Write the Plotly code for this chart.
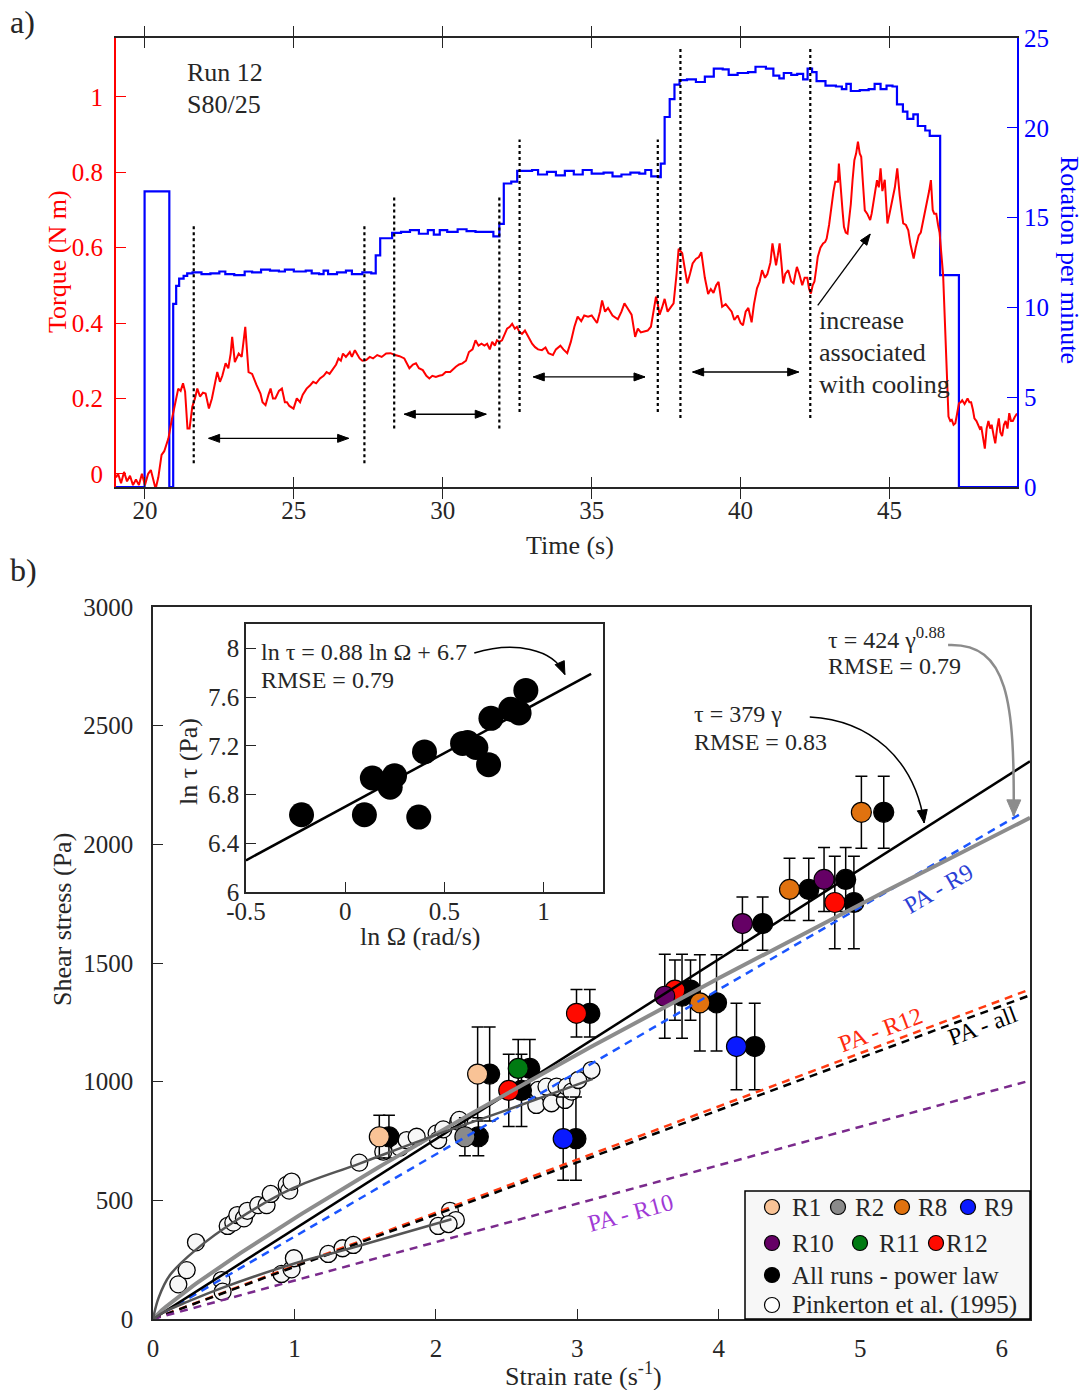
import plotly.graph_objects as go
import numpy as np

W, H = 1085, 1390
FONT = "Liberation Serif, Times New Roman, serif"
TXT = "#262626"

def fx(p):
    return p / W

def fy(p):
    return 1 - p / H

# ---------------- Panel a) data ----------------
rpm_t = [19.03, 19.99, 20.82, 20.95, 21.05, 21.15, 21.3, 21.42, 21.6, 21.9, 22.2, 22.5, 22.7, 23.0, 23.35,
         23.6, 23.9, 24.2, 24.5, 24.7, 25.0, 25.4, 25.6, 25.85, 26.0, 26.15, 26.45, 26.75, 26.95, 27.3,
         27.6, 27.75, 27.9, 28.3, 28.6, 28.9, 29.2, 29.5, 29.7, 29.9, 30.15, 30.5, 30.8, 31.1, 31.5,
         31.7, 31.9, 32.05, 32.3, 32.5, 33.0, 33.2, 33.5, 33.8, 34.1, 34.4, 34.7, 35.0, 35.4, 35.7,
         36.0, 36.3, 36.6, 36.8, 37.0, 37.25, 37.32, 37.45, 37.62, 37.78, 37.95, 38.2, 38.5, 38.8, 39.1,
         39.4, 39.6, 39.9, 40.25, 40.5, 40.85, 41.1, 41.3, 41.45, 41.7, 41.9, 42.1, 42.25, 42.4, 42.55,
         42.85, 43.2, 43.4, 43.55, 43.7, 44.0, 44.3, 44.5, 44.7, 44.9, 45.1, 45.25, 45.45, 45.6, 45.8,
         45.95, 46.2, 46.35, 46.7, 47.33, 49.28]
rpm_v = [0, 16.46, 0, 10.2, 11.2, 11.6, 11.75, 11.9, 11.95, 11.85, 11.9, 12.0, 11.85, 11.8, 12.0,
         11.95, 12.1, 12.05, 12.0, 12.1, 12.0, 12.05, 11.9, 11.85, 12.05, 11.85, 11.95, 12.05, 11.85, 11.95,
         11.9, 12.9, 13.85, 14.15, 14.2, 14.3, 14.1, 14.3, 14.05, 14.3, 14.2, 14.35, 14.25, 14.2, 14.2,
         13.95, 14.65, 16.9, 17.0, 17.6, 17.65, 17.4, 17.55, 17.35, 17.6, 17.4, 17.65, 17.45, 17.5, 17.3,
         17.4, 17.5, 17.45, 17.65, 17.3, 17.25, 18.0, 20.6, 21.6, 22.4, 22.65, 22.7, 22.55, 22.85, 23.3,
         23.25, 22.95, 23.05, 23.1, 23.4, 23.3, 22.9, 22.75, 23.05, 22.95, 23.0, 22.7, 23.3, 23.1, 22.6,
         22.35, 22.3, 22.15, 22.45, 22.05, 22.1, 22.15, 22.45, 22.15, 22.35, 22.3, 21.3, 20.9, 20.5, 20.75,
         20.1, 19.85, 19.55, 11.8, 0, 0]

tq_t = [19.03, 19.1, 19.2, 19.3, 19.4, 19.5, 19.6, 19.7, 19.8, 19.9, 20.0, 20.11, 20.2, 20.3, 20.36,
        20.45, 20.56, 20.65, 20.79, 20.9, 21.0, 21.12, 21.2, 21.28, 21.35, 21.43, 21.5, 21.59, 21.68, 21.76,
        21.85, 21.95, 22.04, 22.15, 22.25, 22.32, 22.43, 22.52, 22.6, 22.71, 22.8, 22.88, 22.93, 23.02, 23.15,
        23.25, 23.37, 23.48, 23.6, 23.75, 23.88, 23.95, 24.05, 24.15, 24.22, 24.3, 24.38, 24.5, 24.6, 24.7,
        24.77, 24.85, 24.99, 25.1, 25.21, 25.3, 25.43, 25.55, 25.65, 25.75, 25.88, 26.0, 26.1, 26.2, 26.33,
        26.42, 26.5, 26.58, 26.65, 26.75, 26.88, 26.95, 27.05, 27.21, 27.3, 27.43, 27.55, 27.66, 27.8, 27.95,
        28.1, 28.25, 28.4, 28.55, 28.71, 28.8, 28.88, 29.0, 29.1, 29.2, 29.33, 29.45, 29.55, 29.65, 29.77,
        29.88, 29.99, 30.1, 30.25, 30.44, 30.55, 30.66, 30.78, 30.88, 31.0, 31.1, 31.2, 31.3, 31.4, 31.49,
        31.58, 31.66, 31.75, 31.82, 31.9, 31.99, 32.08, 32.16, 32.25, 32.33, 32.42, 32.49, 32.58, 32.66, 32.76,
        32.88, 33.0, 33.1, 33.2, 33.33, 33.45, 33.55, 33.7, 33.8, 33.95, 34.05, 34.18, 34.3, 34.42, 34.53,
        34.65, 34.75, 34.88, 35.0, 35.1, 35.18, 35.28, 35.35, 35.45, 35.55, 35.7, 35.88, 36.0, 36.1, 36.2,
        36.34, 36.46, 36.55, 36.65, 36.75, 36.88, 36.99, 37.08, 37.16, 37.22, 37.28, 37.36, 37.45, 37.55, 37.65,
        37.75, 37.85, 37.92, 38.04, 38.12, 38.21, 38.3, 38.39, 38.5, 38.6, 38.68, 38.75, 38.8, 38.91, 39.0,
        39.09, 39.18, 39.26, 39.32, 39.38, 39.5, 39.61, 39.7, 39.79, 39.9, 40.0, 40.08, 40.17, 40.26, 40.37,
        40.45, 40.55, 40.64, 40.72, 40.82, 40.9, 41.0, 41.07, 41.13, 41.19, 41.25, 41.31, 41.37, 41.43, 41.5,
        41.6, 41.7, 41.78, 41.84, 41.89, 41.97, 42.07, 42.15, 42.24, 42.3, 42.36, 42.42, 42.48, 42.55, 42.59,
        42.68, 42.77, 42.84, 42.89, 42.97, 43.06, 43.12, 43.18, 43.27, 43.3, 43.35, 43.42, 43.47, 43.53, 43.59,
        43.65, 43.7, 43.76, 43.82, 43.88, 43.94, 44.0, 44.05, 44.1, 44.17, 44.25, 44.35, 44.4, 44.46, 44.52,
        44.58, 44.64, 44.7, 44.76, 44.84, 44.9, 44.93, 45.0, 45.1, 45.18, 45.26, 45.3, 45.34, 45.4, 45.46,
        45.55, 45.63, 45.7, 45.76, 45.81, 45.88, 45.98, 46.05, 46.16, 46.22, 46.27, 46.33, 46.39, 46.45, 46.5,
        46.57, 46.63, 46.68, 46.8, 46.92, 46.98, 47.04, 47.09, 47.15, 47.21, 47.27, 47.33, 47.39, 47.44, 47.52,
        47.62, 47.68, 47.74, 47.8, 47.85, 47.92, 47.97, 48.03, 48.08, 48.14, 48.2, 48.26, 48.32, 48.38, 48.43,
        48.5, 48.55, 48.61, 48.67, 48.72, 48.78, 48.84, 48.9, 48.96, 49.02, 49.08, 49.14, 49.2, 49.28]
tq_v = [-0.01, 0.0, -0.025, 0.005, -0.02, -0.005, -0.03, -0.015, -0.03, 0.0, -0.03, 0.0, 0.01, -0.02, -0.04,
        -0.01, 0.05, 0.06, 0.094, 0.142, 0.177, 0.226, 0.22, 0.24, 0.218, 0.12, 0.12, 0.177, 0.2, 0.226,
        0.205, 0.215, 0.213, 0.173, 0.2, 0.226, 0.27, 0.244, 0.26, 0.293, 0.28, 0.319, 0.363, 0.296, 0.319,
        0.31, 0.39, 0.27, 0.265, 0.235, 0.213, 0.19, 0.182, 0.21, 0.226, 0.2, 0.2, 0.22, 0.226, 0.19,
        0.19, 0.18, 0.173, 0.2, 0.19, 0.21, 0.226, 0.235, 0.244, 0.24, 0.253, 0.26, 0.27, 0.265, 0.28,
        0.29, 0.306, 0.3, 0.319, 0.31, 0.323, 0.31, 0.328, 0.306, 0.3, 0.302, 0.31, 0.306, 0.315, 0.31,
        0.319, 0.32, 0.315, 0.312, 0.306, 0.29, 0.28, 0.29, 0.293, 0.28, 0.275, 0.26, 0.253, 0.26, 0.257,
        0.26, 0.262, 0.27, 0.27, 0.284, 0.29, 0.293, 0.3, 0.323, 0.33, 0.354, 0.34, 0.345, 0.34, 0.345,
        0.33, 0.35, 0.34, 0.354, 0.35, 0.354, 0.37, 0.385, 0.39, 0.398, 0.385, 0.39, 0.375, 0.371, 0.38,
        0.363, 0.345, 0.336, 0.33, 0.328, 0.335, 0.32, 0.315, 0.33, 0.34, 0.33, 0.32, 0.35, 0.39, 0.417,
        0.405, 0.42, 0.417, 0.42, 0.41, 0.4, 0.43, 0.46, 0.43, 0.44, 0.42, 0.41, 0.43, 0.452, 0.44,
        0.422, 0.363, 0.385, 0.375, 0.377, 0.38, 0.39, 0.43, 0.47, 0.45, 0.422, 0.44, 0.464, 0.43, 0.44,
        0.452, 0.53, 0.597, 0.585, 0.55, 0.505, 0.53, 0.558, 0.57, 0.575, 0.588, 0.55, 0.52, 0.477, 0.49,
        0.48, 0.5, 0.509, 0.47, 0.443, 0.45, 0.44, 0.43, 0.408, 0.42, 0.4, 0.394, 0.43, 0.44, 0.402,
        0.45, 0.492, 0.51, 0.54, 0.52, 0.53, 0.56, 0.611, 0.58, 0.553, 0.58, 0.611, 0.56, 0.505, 0.53,
        0.54, 0.51, 0.505, 0.53, 0.549, 0.53, 0.5, 0.52, 0.52, 0.49, 0.478, 0.5, 0.51, 0.55, 0.575,
        0.6, 0.611, 0.615, 0.624, 0.66, 0.722, 0.75, 0.775, 0.775, 0.823, 0.761, 0.7, 0.655, 0.64, 0.637,
        0.68, 0.715, 0.78, 0.832, 0.85, 0.881, 0.85, 0.841, 0.78, 0.699, 0.69, 0.673, 0.69, 0.715, 0.75,
        0.779, 0.76, 0.81, 0.75, 0.78, 0.7, 0.664, 0.69, 0.73, 0.76, 0.81, 0.77, 0.74, 0.7, 0.664,
        0.66, 0.646, 0.61, 0.59, 0.571, 0.6, 0.632, 0.64, 0.681, 0.7, 0.725, 0.75, 0.779, 0.7, 0.69,
        0.69, 0.66, 0.64, 0.527, 0.249, 0.152, 0.14, 0.143, 0.13, 0.134, 0.16, 0.187, 0.19, 0.195, 0.185,
        0.2, 0.19, 0.19, 0.17, 0.147, 0.14, 0.129, 0.12, 0.125, 0.1, 0.067, 0.12, 0.14, 0.12, 0.13,
        0.1, 0.081, 0.12, 0.147, 0.11, 0.1, 0.13, 0.14, 0.12, 0.161, 0.14, 0.14, 0.15, 0.16]

vline_t = [21.64, 27.37, 28.37, 31.9, 32.58, 37.22, 37.98, 42.34]
vline_lo = [0.028, 0.028, 0.12, 0.12, 0.164, 0.164, 0.148, 0.148]
vline_hi = [0.66, 0.66, 0.735, 0.735, 0.887, 0.887, 1.129, 1.129]

span_t0 = [22.14, 28.71, 33.04, 38.39]
span_t1 = [26.84, 31.46, 36.79, 41.95]
span_T = [0.094, 0.158, 0.257, 0.27]

time_ticks = [20, 25, 30, 35, 40, 45]
torque_ticks = [0, 0.2, 0.4, 0.6, 0.8, 1]
torque_labels = ["0", "0.2", "0.4", "0.6", "0.8", "1"]
rpm_ticks = [0, 5, 10, 15, 20, 25]

# ---------------- Panel b) data ----------------
run_names = ["R1", "R1", "R2", "R11", "R12", "R12", "R12", "R12", "R9", "R9", "R10", "R10", "R10", "R8", "R8", "R8"]
strain_run = [1.60, 2.295, 2.205, 2.582, 2.515, 2.994, 3.69, 4.82, 2.90, 4.125, 3.618, 4.167, 4.744, 3.866, 4.50, 5.008]
strain_pl = [1.668, 2.38, 2.30, 2.664, 2.605, 3.088, 3.80, 4.955, 2.99, 4.254, 3.74, 4.31, 4.897, 3.984, 4.636, 5.166]
stress = [768, 1032, 768, 1056, 963, 1288, 1386, 1755, 760, 1148, 1360, 1666, 1852, 1332, 1810, 2135]
stress_err = [90, 198, 80, 122, 152, 100, 127, 195, 175, 182, 177, 112, 135, 203, 131, 152]
run_colors = {"R1": "#f9c396", "R2": "#8a8a8a", "R8": "#e0720f", "R9": "#0a1aff",
              "R10": "#650065", "R11": "#007a12", "R12": "#ff0a00"}

pink_x = [0.179, 0.238, 0.304, 0.528, 0.568, 0.596, 0.643, 0.667, 0.744, 0.803, 0.832, 0.945, 0.963, 0.980,
          1.458, 1.628, 1.746, 1.793, 1.864, 2.005, 2.016, 2.052, 2.158, 2.165,
          2.71, 2.723, 2.782, 2.817, 2.853, 2.912, 2.924, 2.959, 3.006, 3.10,
          0.485, 0.492, 0.909, 0.980, 0.996, 1.239, 1.34, 1.416, 2.016, 2.099, 2.141, 2.09]
pink_y = [146, 206, 323, 392, 406, 438, 424, 456, 480, 480, 527, 565, 541, 579,
          659, 705, 722, 754, 768, 782, 754, 799, 831, 839,
          902, 965, 979, 909, 979, 923, 979, 958, 1007, 1049,
          164, 115, 190, 209, 256, 274, 298, 312, 392, 456, 417, 400]
pk_up_x = [0, 0.04, 0.12, 0.3, 0.6, 0.99, 1.46, 2.0, 2.5, 3.11]
pk_up_y = [0, 90, 185, 290, 420, 551, 655, 776, 880, 1012]
pk_lo_x = [0, 0.1, 0.25, 0.48, 1.0, 1.39, 2.11]
pk_lo_y = [0, 36, 74, 129, 234, 297, 420]

lin_coef = 379          # tau = 379 gamma
pow_a, pow_n = 424, 0.88  # tau = 424 gamma^0.88
pa_names = ["PA - R9", "PA - R12", "PA - all", "PA - R10"]
pa_slope = [347, 224, 220, 162]
pa_end = [6.13, 6.2, 6.2, 6.2]
pa_colors = ["#1a55ff", "#ff3a10", "#000000", "#7a2a8c"]
pa_text_colors = ["#2a3fd6", "#ff2a10", "#000000", "#a03ad6"]

strain_ticks = [0, 1, 2, 3, 4, 5, 6]
stress_ticks = [0, 500, 1000, 1500, 2000, 2500, 3000]

inset_lnO = [-0.22, 0.097, 0.371, 0.137, 0.249, 0.227, 0.40, 0.592, 0.617, 0.659, 0.723, 0.735, 0.835, 0.877, 0.911]
inset_lnT = [6.634, 6.634, 6.615, 6.936, 6.955, 6.86, 7.15, 7.22, 7.227, 7.186, 7.045, 7.426, 7.50, 7.47, 7.655]
inset_fit_slope, inset_fit_icpt = 0.88, 6.7
inset_fit_x = [-0.5, 1.24]
inset_xticks = [-0.5, 0, 0.5, 1]
inset_yticks = [6, 6.4, 6.8, 7.2, 7.6, 8]

# axis geometry (pixels) and ranges
TOP_X = (116, 1017, 19.03, 49.28)
TOP_TQ = (487, 38, -0.035, 1.156)
MAIN_X = (153, 1030, 0, 6.2)
MAIN_Y = (1319, 607, 0, 3000)
INS_X = (246, 603, -0.5, 1.3)
INS_Y = (892, 624, 6, 8.2)

def to_px(v, ax):
    p0, p1, v0, v1 = ax
    return p0 + (v - v0) / (v1 - v0) * (p1 - p0)

fig = go.Figure()

# ---- top panel traces ----
fig.add_trace(go.Scatter(x=rpm_t, y=rpm_v, mode="lines", line=dict(color="#0000ff", width=2.2, shape="hv"),
                         xaxis="x", yaxis="y", showlegend=False, hoverinfo="skip"))
fig.add_trace(go.Scatter(x=tq_t, y=tq_v, mode="lines", line=dict(color="#ff0000", width=2.0),
                         xaxis="x", yaxis="y2", showlegend=False, hoverinfo="skip"))

# ---- bottom panel traces ----
fig.add_trace(go.Scatter(x=pink_x, y=pink_y, mode="markers", xaxis="x3", yaxis="y3",
                         marker=dict(size=17, color="#f7f7f7", line=dict(color="black", width=1.3)),
                         showlegend=False, hoverinfo="skip"))
fig.add_trace(go.Scatter(x=strain_pl, y=stress, mode="markers", xaxis="x3", yaxis="y3",
                         error_y=dict(type="data", array=stress_err, color="black", thickness=1.5, width=6),
                         marker=dict(size=20, color="black", line=dict(color="black", width=1.2)),
                         showlegend=False, hoverinfo="skip"))
fig.add_trace(go.Scatter(x=strain_run, y=stress, mode="markers", xaxis="x3", yaxis="y3",
                         error_y=dict(type="data", array=stress_err, color="black", thickness=1.5, width=6),
                         marker=dict(size=20, color=[run_colors[r] for r in run_names],
                                     line=dict(color="black", width=1.2)),
                         showlegend=False, hoverinfo="skip"))

for s, e, c in zip(pa_slope, pa_end, pa_colors):
    fig.add_trace(go.Scatter(x=[0, e], y=[0, s * e], mode="lines", xaxis="x3", yaxis="y3",
                             line=dict(color=c, width=2.5, dash="8px,6px"), showlegend=False, hoverinfo="skip"))

g = np.linspace(0, 6.2, 200)
fig.add_trace(go.Scatter(x=[0, 6.2], y=[0, lin_coef * 6.2], mode="lines", xaxis="x3", yaxis="y3",
                         line=dict(color="black", width=2.5), showlegend=False, hoverinfo="skip"))
fig.add_trace(go.Scatter(x=g, y=pow_a * g ** pow_n, mode="lines", xaxis="x3", yaxis="y3",
                         line=dict(color="#8c8c8c", width=4), showlegend=False, hoverinfo="skip"))
fig.add_trace(go.Scatter(x=pk_up_x, y=pk_up_y, mode="lines", xaxis="x3", yaxis="y3",
                         line=dict(color="#555555", width=2.5, shape="spline"), showlegend=False, hoverinfo="skip"))
fig.add_trace(go.Scatter(x=pk_lo_x, y=pk_lo_y, mode="lines", xaxis="x3", yaxis="y3",
                         line=dict(color="#555555", width=2.5, shape="spline"), showlegend=False, hoverinfo="skip"))

# ---- inset ----
fig.add_trace(go.Scatter(x=inset_fit_x, y=[inset_fit_slope * v + inset_fit_icpt for v in inset_fit_x],
                         mode="lines", xaxis="x4", yaxis="y4", line=dict(color="black", width=2.5),
                         showlegend=False, hoverinfo="skip"))
fig.add_trace(go.Scatter(x=inset_lnO, y=inset_lnT, mode="markers", xaxis="x4", yaxis="y4",
                         marker=dict(size=25, color="black"), showlegend=False, hoverinfo="skip"))

tickfont = dict(family=FONT, size=25, color=TXT)
axcommon = dict(showgrid=False, zeroline=False, ticks="inside", ticklen=10, tickwidth=1.3, automargin=False)

shapes = []
annotations = []

def P(x, y):
    return f"{x / W:.5f},{1 - y / H:.5f}"

def head(tx, ty, fx_, fy_, color, L=12, w=4.5):
    dx, dy = tx - fx_, ty - fy_
    n = (dx * dx + dy * dy) ** 0.5
    ux, uy = dx / n, dy / n
    bx, by = tx - L * ux, ty - L * uy
    c1 = (bx - w * uy, by + w * ux)
    c2 = (bx + w * uy, by - w * ux)
    shapes.append(dict(type="path", xref="paper", yref="paper",
                       path=f"M {P(tx, ty)} L {P(*c1)} L {P(*c2)} Z",
                       fillcolor=color, line=dict(color=color, width=1)))

def straight_arrow(x0, y0, x1, y1, color="black", width=1.3, both=False, L=12, w=4.5):
    shapes.append(dict(type="line", xref="paper", yref="paper", x0=x0 / W, y0=1 - y0 / H,
                       x1=x1 / W, y1=1 - y1 / H, line=dict(color=color, width=width)))
    head(x1, y1, x0, y0, color, L, w)
    if both:
        head(x0, y0, x1, y1, color, L, w)

def curved_arrow(pts, color="black", width=1.5, L=12, w=4.5):
    (x0, y0), (x1, y1), (x2, y2), (x3, y3) = pts
    shapes.append(dict(type="path", xref="paper", yref="paper",
                       path=f"M {P(x0, y0)} C {P(x1, y1)} {P(x2, y2)} {P(x3, y3)}",
                       line=dict(color=color, width=width)))
    head(x3, y3, x2, y2, color, L, w)

for t, lo, hi in zip(vline_t, vline_lo, vline_hi):
    shapes.append(dict(type="line", xref="x", yref="y2", x0=t, x1=t, y0=lo, y1=hi,
                       line=dict(color="black", width=2.2, dash="dot")))

for t0, t1, T in zip(span_t0, span_t1, span_T):
    yy = to_px(T, TOP_TQ)
    straight_arrow(to_px(t0, TOP_X), yy, to_px(t1, TOP_X), yy, both=True, L=11, w=4)

straight_arrow(to_px(42.59, TOP_X), to_px(0.447, TOP_TQ), to_px(44.35, TOP_X), to_px(0.636, TOP_TQ), L=11, w=4)

def mp(g_, t_):
    return (to_px(g_, MAIN_X), to_px(t_, MAIN_Y))

def ip(a_, b_):
    return (to_px(a_, INS_X), to_px(b_, INS_Y))

curved_arrow([mp(4.643, 2537), mp(5.067, 2524), mp(5.385, 2360), mp(5.452, 2090)], "black", 1.5, 13, 5)
curved_arrow([mp(5.621, 2840), mp(6.05, 2850), mp(6.09, 2600), mp(6.085, 2120)], "#8c8c8c", 2.5, 16, 7)
curved_arrow([ip(0.651, 7.962), ip(0.85, 8.06), ip(1.05, 8.0), ip(1.108, 7.785)], "black", 1.5, 13, 5)

def txt(x, y, s, size=26, color=TXT, xanchor="left", angle=0):
    annotations.append(dict(x=fx(x), y=fy(y), xref="paper", yref="paper", text=s, showarrow=False,
                            xanchor=xanchor, yanchor="middle", textangle=angle,
                            font=dict(family=FONT, size=size, color=color)))

txt(8, 22, "a)", size=32)
txt(8, 570, "b)", size=32)
txt(185, 73, "Run 12")
txt(185, 105, "S80/25")
txt(817, 320, "increase")
txt(817, 352, "associated")
txt(817, 384, "with cooling")
txt(570, 545, "Time (s)", xanchor="center")
txt(58, 262, "Torque (N m)", color="#ff0000", xanchor="center", angle=-90)
txt(1069, 260, "Rotation per minute", color="#0000ff", xanchor="center", angle=90)

txt(62, 920, "Shear stress (Pa)", xanchor="center", angle=-90)
txt(583, 1374, "Strain rate (s<sup>-1</sup>)", xanchor="center")
txt(189, 762, "ln τ (Pa)", xanchor="center", angle=-90)
txt(420, 936, "ln Ω (rad/s)", xanchor="center")
txt(259, 652, "ln τ = 0.88 ln Ω + 6.7", size=24)
txt(259, 680, "RMSE = 0.79", size=24)
txt(692, 714, "τ = 379 γ", size=24)
txt(692, 742, "RMSE = 0.83", size=24)
txt(826, 638, "τ = 424 γ<sup>0.88</sup>", size=24)
txt(826, 666, "RMSE = 0.79", size=24)

pa_label_pos = [(938, 889), (880, 1030), (982, 1026), (630, 1213)]
pa_label_ang = [-30, -20.6, -20.6, -15.2]
for name, (lx, ly), ang, col in zip(pa_names, pa_label_pos, pa_label_ang, pa_text_colors):
    txt(lx, ly, name, size=24, color=col, xanchor="center", angle=ang)

# legend (manual)
shapes.append(dict(type="rect", xref="paper", yref="paper", x0=fx(745), x1=fx(1030), y0=fy(1319), y1=fy(1191),
                   fillcolor="#f7f7f7", line=dict(color="black", width=1.5), layer="above"))
leg_items = [("R1", 772, 1207, 790), ("R2", 838, 1207, 853), ("R8", 902, 1207, 916), ("R9", 968, 1207, 982),
             ("R10", 772, 1243, 790), ("R11", 860, 1243, 877), ("R12", 936, 1243, 944)]
for name, mx, my, tx in leg_items:
    shapes.append(dict(type="circle", xref="paper", yref="paper", x0=fx(mx - 7.5), x1=fx(mx + 7.5),
                       y0=fy(my + 7.5), y1=fy(my - 7.5), fillcolor=run_colors[name],
                       line=dict(color="black", width=1.2), layer="above"))
    txt(tx, my, name, size=25)
shapes.append(dict(type="circle", xref="paper", yref="paper", x0=fx(772 - 7.5), x1=fx(772 + 7.5),
                   y0=fy(1275 + 7.5), y1=fy(1275 - 7.5), fillcolor="black",
                   line=dict(color="black", width=1.2), layer="above"))
txt(790, 1275, "All runs - power law", size=25)
shapes.append(dict(type="circle", xref="paper", yref="paper", x0=fx(772 - 7.5), x1=fx(772 + 7.5),
                   y0=fy(1305 + 7.5), y1=fy(1305 - 7.5), fillcolor="white",
                   line=dict(color="black", width=1.2), layer="above"))
txt(790, 1305, "Pinkerton et al. (1995)", size=25)

fig.update_layout(
    width=W, height=H, margin=dict(l=0, r=0, t=0, b=0, autoexpand=False),
    paper_bgcolor="white", plot_bgcolor="rgba(0,0,0,0)", showlegend=False,
    font=dict(family=FONT, color=TXT),
    xaxis=dict(domain=[fx(116), fx(1017)], range=[19.03, 49.28], anchor="y",
               tickvals=time_ticks, showline=True, linecolor=TXT, linewidth=1.5, mirror="allticks",
               tickcolor=TXT, tickfont=tickfont, **axcommon),
    yaxis=dict(domain=[fy(487), fy(38)], range=[0, 25], anchor="x", side="right",
               tickvals=rpm_ticks, showline=True, linecolor="#0000ff", linewidth=2, tickcolor="#0000ff",
               tickfont=dict(family=FONT, size=25, color="#0000ff"), **axcommon),
    yaxis2=dict(domain=[fy(487), fy(38)], range=[-0.035, 1.156], anchor="x", overlaying="y", side="left",
                tickvals=torque_ticks, ticktext=torque_labels, showline=True, linecolor="#ff0000", linewidth=2,
                tickcolor="#ff0000", tickfont=dict(family=FONT, size=25, color="#ff0000"),
                ticklabelstandoff=6, **axcommon),
    xaxis3=dict(domain=[fx(153), fx(1030)], range=[0, 6.2], anchor="y3", tickvals=strain_ticks,
                showline=True, linecolor=TXT, linewidth=1.5, mirror=True, tickcolor=TXT, tickfont=tickfont,
                ticklabelstandoff=6, **axcommon),
    yaxis3=dict(domain=[fy(1319), fy(607)], range=[0, 3000], anchor="x3", tickvals=stress_ticks,
                showline=True, linecolor=TXT, linewidth=1.5, mirror=True, tickcolor=TXT, tickfont=tickfont,
                ticklabelstandoff=13, **axcommon),
    xaxis4=dict(domain=[fx(246), fx(603)], range=[-0.5, 1.3], anchor="y4", tickvals=inset_xticks,
                ticktext=["-0.5", "0", "0.5", "1"],
                showline=True, linecolor=TXT, linewidth=1.5, mirror=True, tickcolor=TXT, tickfont=tickfont,
                ticklabelstandoff=-4, **axcommon),
    yaxis4=dict(domain=[fy(892), fy(624)], range=[6, 8.2], anchor="x4", tickvals=inset_yticks,
                ticktext=["6", "6.4", "6.8", "7.2", "7.6", "8"],
                showline=True, linecolor=TXT, linewidth=1.5, mirror=True, tickcolor=TXT, tickfont=tickfont,
                **axcommon),
    shapes=shapes, annotations=annotations,
)

fig.write_html("out.html", config={"displayModeBar": False},
               post_script="document.body.style.margin='0px';document.body.style.padding='0px';"
                           "document.body.style.overflow='hidden';")
